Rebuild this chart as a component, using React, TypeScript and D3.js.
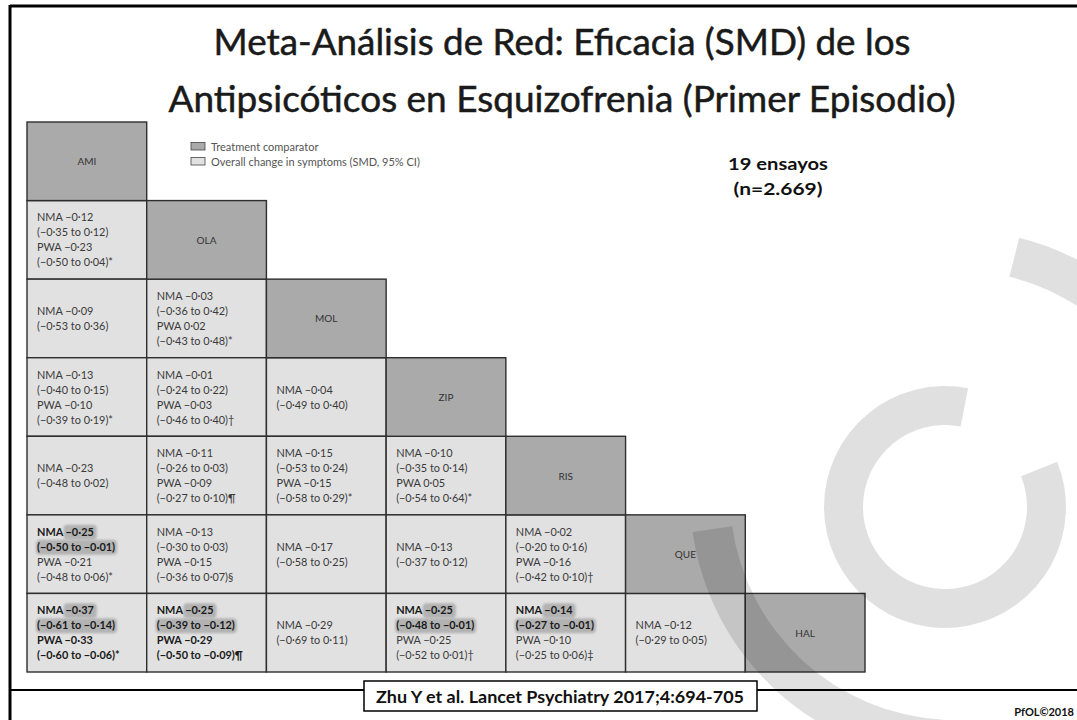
import React, { useEffect, useRef } from "react";
import * as d3 from "d3";

const treatments = ["AMI", "OLA", "MOL", "ZIP", "RIS", "QUE", "HAL"];
// lower-triangle comparisons: row treatment index vs column treatment index
const cellRow = [1, 2, 2, 3, 3, 3, 4, 4, 4, 4, 5, 5, 5, 5, 5, 6, 6, 6, 6, 6, 6];
const cellCol = [0, 0, 1, 0, 1, 2, 0, 1, 2, 3, 0, 1, 2, 3, 4, 0, 1, 2, 3, 4, 5];
const nmaEst = [-0.12, -0.09, -0.03, -0.13, -0.01, -0.04, -0.23, -0.11, -0.15, -0.10, -0.25, -0.13, -0.17, -0.13, -0.02, -0.37, -0.25, -0.29, -0.25, -0.14, -0.12];
const nmaLow = [-0.35, -0.53, -0.36, -0.40, -0.24, -0.49, -0.48, -0.26, -0.53, -0.35, -0.50, -0.30, -0.58, -0.37, -0.20, -0.61, -0.39, -0.69, -0.48, -0.27, -0.29];
const nmaHigh = [0.12, 0.36, 0.42, 0.15, 0.22, 0.40, 0.02, 0.03, 0.24, 0.14, -0.01, 0.03, 0.25, 0.12, 0.16, -0.14, -0.12, 0.11, -0.01, -0.01, 0.05];
const pwaEst = [-0.23, null, 0.02, -0.10, -0.03, null, null, -0.09, -0.15, 0.05, -0.21, -0.15, null, null, -0.16, -0.33, -0.29, null, -0.25, -0.10, null];
const pwaLow = [-0.50, null, -0.43, -0.39, -0.46, null, null, -0.27, -0.58, -0.54, -0.48, -0.36, null, null, -0.42, -0.60, -0.50, null, -0.52, -0.25, null];
const pwaHigh = [0.04, null, 0.48, 0.19, 0.40, null, null, 0.10, 0.29, 0.64, 0.06, 0.07, null, null, 0.10, -0.06, -0.09, null, 0.01, 0.06, null];
const pwaNote = ["*", "", "*", "*", "†", "", "", "¶", "*", "*", "*", "§", "", "", "†", "*", "¶", "", "†", "‡", ""];

const titleLines = ["Meta-Análisis de Red: Eficacia (SMD) de los", "Antipsicóticos en Esquizofrenia (Primer Episodio)"];
const legendLabels = ["Treatment comparator", "Overall change in symptoms (SMD, 95% CI)"];
const studyNote = ["19 ensayos", "(n=2.669)"];
const citation = "Zhu Y et al. Lancet Psychiatry 2017;4:694-705";
const copyright = "PfOL©2018";

const fmt = (v: number) => (v < 0 ? "−" : "") + Math.abs(v).toFixed(2).replace(".", "·");

export default function App() {
  const ref = useRef<SVGSVGElement>(null);

  useEffect(() => {
    const svg = d3.select(ref.current);
    svg.selectAll("*").remove();
    const W = 1077, H = 720;

    svg.append("rect").attr("width", W).attr("height", H).attr("fill", "#fff");

    // frame
    svg.append("line").attr("x1", 10).attr("x2", W).attr("y1", 6).attr("y2", 6).attr("stroke", "#000").attr("stroke-width", 3);
    svg.append("line").attr("x1", 10).attr("x2", 10).attr("y1", 5).attr("y2", H).attr("stroke", "#000").attr("stroke-width", 3);
    svg.append("line").attr("x1", 10).attr("x2", W).attr("y1", 690).attr("y2", 690).attr("stroke", "#000").attr("stroke-width", 2);

    // title
    const tW = [697, 787];
    titleLines.forEach((t, i) => {
      svg.append("text").attr("x", 562).attr("y", 55 + i * 57).attr("text-anchor", "middle")
        .attr("font-family", "Lato, 'Open Sans', sans-serif").attr("font-size", 36).attr("fill", "#1a1a1a")
        .attr("stroke", "#1a1a1a").attr("stroke-width", 0.5)
        .attr("textLength", tW[i]).attr("lengthAdjust", "spacingAndGlyphs").text(t);
    });

    const x = d3.scaleBand<string>().domain(treatments).range([27, 865]);
    const y = d3.scaleBand<string>().domain(treatments).range([122, 672]);
    const bw = x.bandwidth(), bh = y.bandwidth();

    const grid = svg.append("g");
    cellRow.forEach((r, k) => {
      const c = cellCol[k];
      grid.append("rect").attr("x", x(treatments[c])!).attr("y", y(treatments[r])!).attr("width", bw).attr("height", bh)
        .attr("fill", "#e1e1e1").attr("stroke", "#2e2e2e").attr("stroke-width", 1.4);
    });
    treatments.forEach((t) => {
      grid.append("rect").attr("x", x(t)!).attr("y", y(t)!).attr("width", bw).attr("height", bh)
        .attr("fill", "#aaaaaa").attr("stroke", "#2e2e2e").attr("stroke-width", 1.4);
      grid.append("text").attr("x", x(t)! + bw / 2).attr("y", y(t)! + bh / 2 + 4).attr("text-anchor", "middle")
        .attr("font-family", "Lato, sans-serif").attr("font-size", 10).attr("fill", "#333").text(t);
    });

    // cell texts
    const defs = svg.append("defs");
    defs.append("filter").attr("id", "soft").append("feGaussianBlur").attr("stdDeviation", 0.9);
    const txt = svg.append("g").attr("font-family", "Lato, sans-serif").attr("font-size", 10.9);
    cellRow.forEach((r, k) => {
      const c = cellCol[k];
      const x0 = x(treatments[c])! + 10;
      const cy = y(treatments[r])! + bh / 2;
      const sigN = nmaHigh[k] < 0 || nmaLow[k] > 0;
      const hasP = pwaEst[k] !== null;
      const sigP = hasP && ((pwaHigh[k] as number) < 0 || (pwaLow[k] as number) > 0);
      const lines: { label?: string; val: string; bold: boolean; hl: "none" | "val" | "all" }[] = [
        { label: "NMA", val: fmt(nmaEst[k]), bold: sigN, hl: sigN ? "val" : "none" },
        { val: `(${fmt(nmaLow[k])} to ${fmt(nmaHigh[k])})`, bold: sigN, hl: sigN ? "all" : "none" },
      ];
      if (hasP) {
        lines.push({ label: "PWA", val: fmt(pwaEst[k] as number), bold: sigP, hl: "none" });
        lines.push({ val: `(${fmt(pwaLow[k] as number)} to ${fmt(pwaHigh[k] as number)})${pwaNote[k]}`, bold: sigP, hl: "none" });
      }
      const n = lines.length;
      lines.forEach((ln, i) => {
        const by = cy + (i - (n - 1) / 2) * 15 + 4;
        const hlG = txt.append("g");
        const t = txt.append("text").attr("x", x0).attr("y", by)
          .attr("font-weight", ln.bold ? 700 : 400).attr("fill", ln.bold ? "#1a1a1a" : "#3a3a3a");
        const full = ln.label ? `${ln.label} ${ln.val}` : ln.val;
        t.text(full);
        if (ln.hl !== "none") {
          const node = t.node() as SVGTextElement;
          const total = node.getComputedTextLength();
          let hx = x0, hw = total;
          if (ln.hl === "val" && ln.label) {
            const start = ln.label.length + 1;
            hx = x0 + node.getSubStringLength(0, start) - 1;
            hw = total - (hx - x0) + 1;
          }
          hlG.append("rect").attr("x", hx - 1).attr("y", by - 11).attr("width", hw + 3).attr("height", 15)
            .attr("rx", 4).attr("fill", "#b3b3b3").attr("filter", "url(#soft)");
        }
      });
    });

    // legend
    const lg = svg.append("g").attr("font-family", "Lato, sans-serif").attr("font-size", 11).attr("fill", "#555");
    legendLabels.forEach((l, i) => {
      lg.append("rect").attr("x", 191).attr("y", 142.5 + i * 15).attr("width", 14).attr("height", 7.5)
        .attr("fill", i === 0 ? "#aaaaaa" : "#e1e1e1").attr("stroke", "#444").attr("stroke-width", 0.8);
      lg.append("text").attr("x", 211).attr("y", 150.5 + i * 15).text(l);
    });

    // study note
    const snW = [100, 89];
    studyNote.forEach((s, i) => {
      svg.append("text").attr("x", 778).attr("y", 170 + i * 25).attr("text-anchor", "middle")
        .attr("font-family", "Lato, sans-serif").attr("font-weight", 700).attr("font-size", 17.5).attr("fill", "#111")
        .attr("textLength", snW[i]).attr("lengthAdjust", "spacingAndGlyphs").text(s);
    });

    // watermark (PfOL logo) – translucent gray arcs
    const wm = svg.append("g").attr("fill", "#000").attr("fill-opacity", 0.12);
    const arc = d3.arc();
    const deg = Math.PI / 180;
    // large outer ring pieces
    wm.append("path").attr("transform", `translate(955,495)`)
      .attr("d", arc({ innerRadius: 225, outerRadius: 265, startAngle: 183 * deg, endAngle: 262 * deg } as any));
    wm.append("path").attr("transform", `translate(955,495)`)
      .attr("d", arc({ innerRadius: 225, outerRadius: 265, startAngle: 14 * deg, endAngle: 42 * deg } as any));
    // inner ring with a gap at the top-right
    wm.append("path").attr("transform", `translate(945,507)`)
      .attr("d", arc({ innerRadius: 82, outerRadius: 121, startAngle: 68 * deg, endAngle: 371 * deg } as any));

    // citation box
    const cb = svg.append("g");
    cb.append("rect").attr("x", 364).attr("y", 681).attr("width", 393).attr("height", 30).attr("fill", "#fff").attr("stroke", "#000").attr("stroke-width", 1.5);
    cb.append("text").attr("x", 560).attr("y", 703).attr("text-anchor", "middle").attr("font-family", "Lato, sans-serif")
      .attr("font-weight", 700).attr("font-size", 17).attr("fill", "#111").attr("textLength", 368).attr("lengthAdjust", "spacingAndGlyphs").text(citation);

    svg.append("text").attr("x", 1074).attr("y", 716).attr("text-anchor", "end").attr("font-family", "Lato, sans-serif")
      .attr("font-weight", 700).attr("font-size", 11).attr("fill", "#111").text(copyright);
  }, []);

  return <svg ref={ref} width={1077} height={720} style={{ position: "absolute", left: 0, top: 0, display: "block" }} />;
}
